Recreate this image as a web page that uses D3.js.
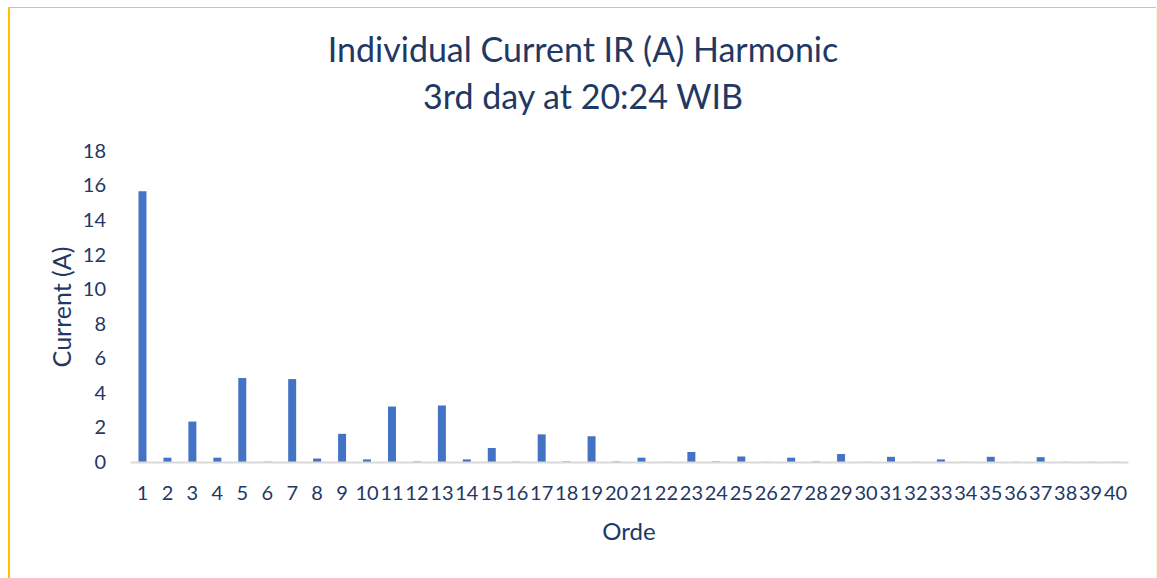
<!DOCTYPE html>
<html>
<head>
<meta charset="utf-8">
<script src="https://cdnjs.cloudflare.com/ajax/libs/d3/7.8.5/d3.min.js"></script>
<style>
  body { margin: 0; background: #fff; }
  text { font-family: Lato, "Open Sans", sans-serif; fill: #1f3864; }
</style>
</head>
<body>
<script>
var width = 1157;
var height = 578;

// harmonic orders 1..40
var orders = d3.range(1, 41).map(String);
// current per harmonic order (A)
var current = [15.67, 0.25, 2.34, 0.25, 4.86, 0.02, 4.80, 0.2, 1.63, 0.15,
               3.21, 0.03, 3.27, 0.15, 0.81, 0.02, 1.6, 0.03, 1.49, 0.03,
               0.25, 0.01, 0.58, 0.03, 0.32, 0.01, 0.25, 0.03, 0.46, 0.01,
               0.3, 0.01, 0.15, 0.01, 0.3, 0.01, 0.28, 0.01, 0.01, 0.01];
var yTicks = [0, 2, 4, 6, 8, 10, 12, 14, 16, 18];
var titleLines = ['Individual Current IR (A) Harmonic', '3rd day at 20:24 WIB'];

var svg = d3.select('body')
  .append('svg')
  .attr('width', width)
  .attr('height', height);

// chart border (yellow)
svg.append('line').attr('x1', 9).attr('x2', 1157).attr('y1', 7.5).attr('y2', 7.5)
  .attr('stroke', '#f5c542').attr('stroke-width', 1);
svg.append('line').attr('x1', 9).attr('x2', 9).attr('y1', 7).attr('y2', 578)
  .attr('stroke', '#ffc000').attr('stroke-width', 2);
svg.append('line').attr('x1', 1156.5).attr('x2', 1156.5).attr('y1', 7).attr('y2', 578)
  .attr('stroke', '#fdf3d6').attr('stroke-width', 1);

var x = d3.scaleBand()
  .domain(orders)
  .range([130, 1128])
  .paddingInner(0.68)
  .paddingOuter(0.34);

var y = d3.scaleLinear()
  .domain([0, 18])
  .range([462, 151]);

// title
svg.append('text')
  .attr('text-anchor', 'middle')
  .attr('font-size', 34)
  .selectAll('tspan')
  .data(titleLines)
  .enter().append('tspan')
  .attr('x', 583)
  .attr('y', function(d, i) { return 62 + i * 47; })
  .text(function(d) { return d; });

// y axis labels
var yAxis = svg.append('g')
  .attr('transform', 'translate(106,0)')
  .call(d3.axisLeft(y).tickValues(yTicks).tickSize(0).tickPadding(0));
yAxis.select('.domain').remove();
yAxis.selectAll('text')
  .attr('font-size', 20)
  .attr('font-family', 'Lato, sans-serif')
  .attr('fill', '#1f3864');

// bars
svg.selectAll('.bar')
  .data(current)
  .enter().append('rect')
  .attr('class', 'bar')
  .attr('x', function(d, i) { return x(orders[i]); })
  .attr('width', x.bandwidth())
  .attr('y', function(d) { return y(d); })
  .attr('height', function(d) { return y(0) - y(d); })
  .attr('fill', '#4472c4');

// x axis
var xAxis = svg.append('g')
  .attr('transform', 'translate(0,' + y(0) + ')')
  .call(d3.axisBottom(x).tickSize(0).tickPadding(24));
xAxis.select('.domain')
  .attr('stroke', '#d9d9d9')
  .attr('stroke-width', 2);
xAxis.selectAll('text')
  .attr('font-size', 20)
  .attr('font-family', 'Lato, sans-serif')
  .attr('fill', '#1f3864');

// axis titles
svg.append('text')
  .attr('text-anchor', 'middle')
  .attr('font-size', 25)
  .attr('transform', 'translate(71,307) rotate(-90)')
  .text('Current (A)');

svg.append('text')
  .attr('text-anchor', 'middle')
  .attr('font-size', 24)
  .attr('x', 629)
  .attr('y', 540)
  .text('Orde');
</script>
</body>
</html>
